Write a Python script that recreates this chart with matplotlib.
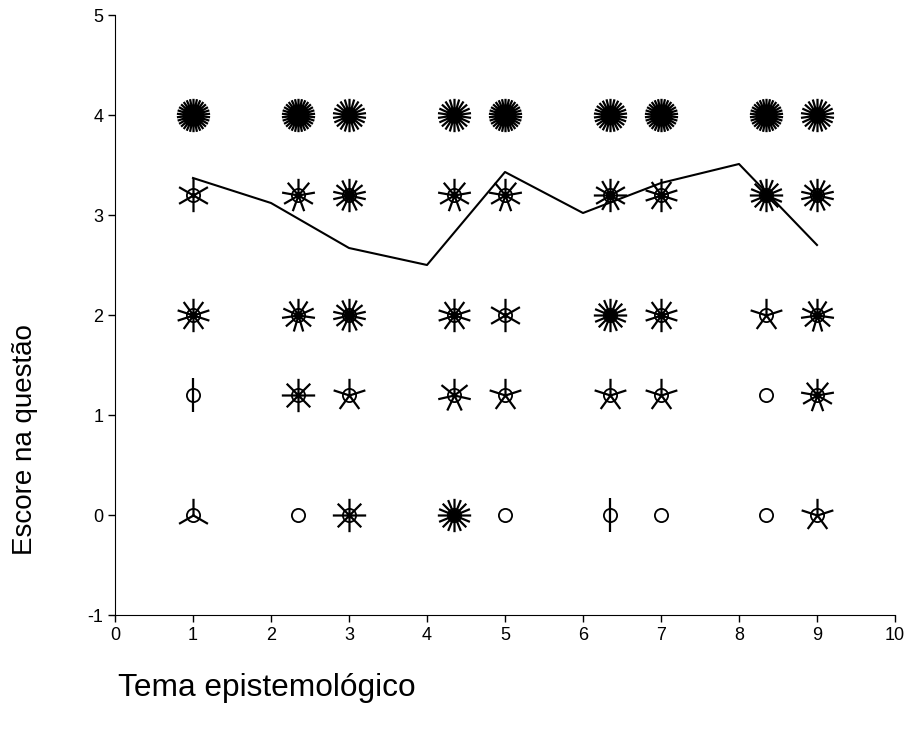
import numpy as np
import matplotlib
matplotlib.use('Agg')
import matplotlib.pyplot as plt
from matplotlib.path import Path

plt.rcParams['font.family'] = ['Liberation Sans', 'DejaVu Sans']

# sunflower positions
temas = [1, 2.35, 3, 4.35, 5, 6.35, 7, 8.35, 9]
escores = [0, 1.2, 2, 3.2, 4]
# number of observations (petals) per tema, one list per escore level
n_0 = [3, 1, 8, 16, 1, 2, 1, 1, 5]
n_12 = [2, 8, 5, 7, 5, 5, 5, 1, 9]
n_2 = [10, 11, 14, 10, 6, 16, 10, 5, 11]
n_32 = [6, 9, 14, 9, 9, 12, 10, 16, 14]
n_4 = [30, 30, 22, 22, 30, 26, 30, 30, 22]

# mean line
linha_x = [1, 2, 3, 4, 5, 6, 7, 8, 9]
linha_y = [3.37, 3.12, 2.67, 2.50, 3.43, 3.02, 3.32, 3.51, 2.70]


def petal_marker(n):
    verts = []
    codes = []
    for k in range(n):
        a = np.pi / 2 + 2 * np.pi * k / n
        verts += [(0, 0), (np.cos(a), np.sin(a))]
        codes += [Path.MOVETO, Path.LINETO]
    # pad extents so scaling is the same for all markers
    verts += [(-1, -1), (-1, -1), (1, 1), (1, 1)]
    codes += [Path.MOVETO, Path.MOVETO, Path.MOVETO, Path.MOVETO]
    return Path(verts, codes)


fig = plt.figure(figsize=(9.09, 7.29), dpi=100)
ax = fig.add_axes([115 / 909, 114 / 729, 780 / 909, 600 / 729])

contagens = [n_0, n_12, n_2, n_32, n_4]
for yv, ns in zip(escores, contagens):
    for xv, n in zip(temas, ns):
        ax.plot(xv, yv, marker='o', ms=9.5, mfc='none', mec='black', mew=1.3)
        if n > 1:
            ax.plot(xv, yv, marker=petal_marker(n), ms=24, mec='black',
                    mew=1.6, linestyle='none')

ax.plot(linha_x, linha_y, color='black', lw=1.5)

ax.set_xlim(0, 10)
ax.set_ylim(-1, 5)
ax.set_xticks(range(0, 11))
ax.set_yticks(range(-1, 6))
ax.set_yticklabels(['-1', '0', '1', '2', '3', '4', '5'])
ax.tick_params(labelsize=13, direction='out', length=5, width=1)
ax.spines['top'].set_visible(False)
ax.spines['right'].set_visible(False)

fig.text(25 / 909, 1 - 440 / 729, 'Escore na questão', rotation=90,
         fontsize=20, ha='center', va='center')
fig.text(118 / 909, 1 - 688 / 729, 'Tema epistemológico', fontsize=22.8,
         ha='left', va='center')

fig.savefig('out.png', dpi=100)
